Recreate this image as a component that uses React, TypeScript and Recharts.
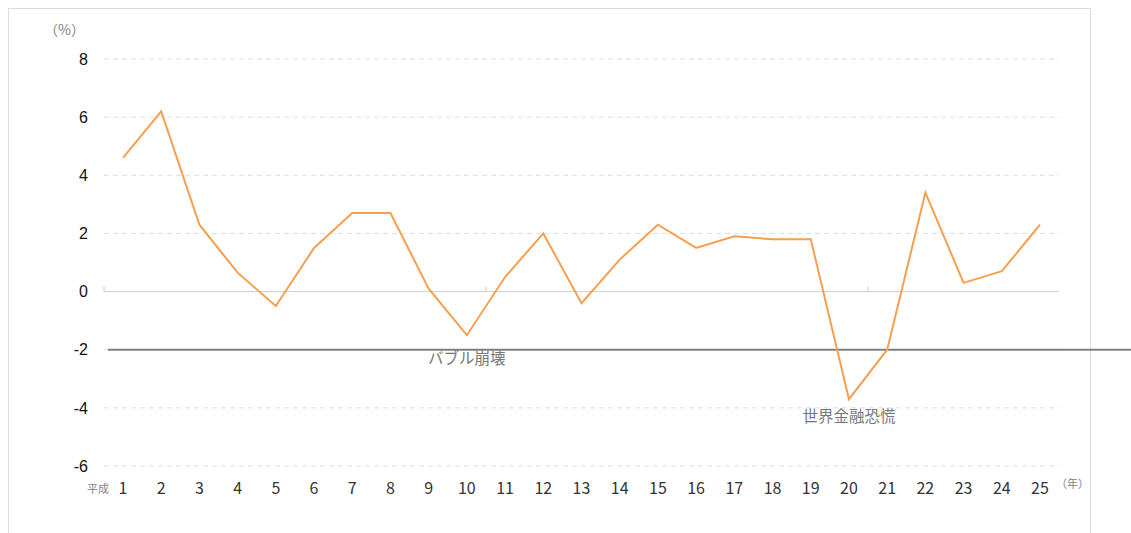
import { LineChart, Line, XAxis, YAxis, CartesianGrid, ReferenceLine, ReferenceDot } from 'recharts'

// 平成 1..25 年 growth rate (%)
const years = ['1', '2', '3', '4', '5', '6', '7', '8', '9', '10', '11', '12', '13', '14', '15', '16', '17', '18', '19', '20', '21', '22', '23', '24', '25']
const rates = [4.6, 6.2, 2.3, 0.65, -0.5, 1.5, 2.7, 2.7, 0.1, -1.5, 0.5, 2.0, -0.4, 1.1, 2.3, 1.5, 1.9, 1.8, 1.8, -3.7, -2.0, 3.4, 0.3, 0.7, 2.3]
const yTicks = [-6, -4, -2, 0, 2, 4, 6, 8]
const events = [
  { year: '10', y: -2.3, text: 'バブル崩壊' },
  { year: '20', y: -4.3, text: '世界金融恐慌' },
]

const data = years.map((y, i) => ({ year: y, rate: rates[i] }))

const W = 1131
const H = 533

// zero line with small ticks every 10 years
const ZeroLine = (props: any) => {
  const { x1, x2, y1 } = props
  const step = (x2 - x1) / years.length
  return (
    <g>
      <line x1={x1} x2={x2} y1={y1} y2={y1} stroke="#d0d0d0" strokeWidth={1} />
      {[0, 10, 20].map((k) => (
        <line key={k} x1={x1 + k * step} x2={x1 + k * step} y1={y1} y2={y1 - 5} stroke="#c8c8c8" strokeWidth={1} />
      ))}
    </g>
  )
}

// the -2 line runs out past the frame to the right edge
const MinusTwoLine = (props: any) => {
  const { x1, y1 } = props
  return <line x1={x1 + 4} x2={W} y1={y1} y2={y1} stroke="#7f7f7f" strokeWidth={2} />
}

const smallText = { position: 'absolute' as const, fontFamily: '"Noto Sans CJK JP", sans-serif', color: '#7f7f7f', fontSize: 12 }

export default function App() {
  return (
    <div style={{ position: 'absolute', left: 0, top: 0, width: W, height: H, background: '#fff', overflow: 'hidden' }}>
      <div style={{ position: 'absolute', left: 8, top: 8, width: 1083, height: 540, border: '1px solid #dcdcdc', boxSizing: 'border-box' }} />
      <div style={{ ...smallText, left: 44, top: 19, fontSize: 14 }}>（%）</div>
      <div style={{ ...smallText, left: 87, top: 480, fontSize: 11 }}>平成</div>
      <div style={{ ...smallText, left: 1056, top: 475, fontSize: 11 }}>（年）</div>
      <div style={{ position: 'absolute', left: 0, top: 0 }}>
        <LineChart width={W} height={H} data={data} margin={{ top: 59, right: 72, left: 44, bottom: 37 }} style={{ overflow: 'visible' }}>
          <CartesianGrid vertical={false} stroke="#dedede" strokeDasharray="5 4" />
          <XAxis
            dataKey="year"
            axisLine={false}
            tickLine={false}
            interval={0}
            height={30}
            tickMargin={11}
            padding={{ left: 19, right: 19 }}
            tick={{ fontSize: 16, fill: '#333', fontFamily: '"Noto Sans CJK JP", sans-serif' }}
          />
          <YAxis
            type="number"
            domain={[-6, 8]}
            ticks={yTicks}
            width={60}
            axisLine={false}
            tickLine={false}
            tickMargin={10}
            tick={{ fontSize: 16, fill: '#111', fontFamily: '"Liberation Sans", Arial, sans-serif' }}
          />
          <ReferenceLine y={0} shape={ZeroLine} />
          <ReferenceLine y={-2} shape={MinusTwoLine} />
          {events.map((e) => (
            <ReferenceDot
              key={e.text}
              x={e.year}
              y={e.y}
              r={0}
              fill="none"
              stroke="none"
              label={{ value: e.text, position: 'center', fill: '#777', fontSize: 15.5, fontFamily: '"Noto Sans CJK JP", sans-serif' }}
            />
          ))}
          <Line type="linear" dataKey="rate" stroke="#f5a050" strokeWidth={2} dot={false} isAnimationActive={false} />
        </LineChart>
      </div>
    </div>
  )
}
